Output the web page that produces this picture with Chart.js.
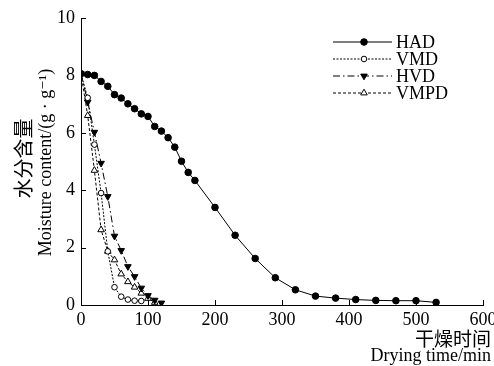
<!DOCTYPE html>
<html>
<head>
<meta charset="utf-8">
<script src="https://cdn.jsdelivr.net/npm/chart.js@4"></script>
<style>
  html, body { margin: 0; padding: 0; background: #fff; }
  #wrap { width: 494px; height: 366px; }
</style>
</head>
<body>
<div id="wrap"><canvas id="chart" width="494" height="366"></canvas></div>
<script>
// drying curves
const hadTime = [0, 10, 20, 30, 40, 50, 60, 70, 80, 90, 100, 110, 120, 130, 140, 150, 160, 170,
                 200, 230, 260, 290, 320, 350, 380, 410, 440, 470, 500, 530];
const hadMoist = [8.06, 8.03, 8.0, 7.79, 7.62, 7.33, 7.21, 7.01, 6.84, 6.66, 6.57, 6.22, 6.06, 5.83, 5.5, 5.01, 4.62, 4.34,
                  3.40, 2.43, 1.62, 0.95, 0.53, 0.31, 0.24, 0.19, 0.16, 0.15, 0.15, 0.09];

const vmdTime = [0, 10, 20, 30, 40, 50, 60, 70, 80, 90];
const vmdMoist = [8.06, 7.22, 5.59, 3.9, 1.87, 0.62, 0.29, 0.19, 0.15, 0.14];

const hvdTime = [0, 10, 20, 30, 40, 50, 60, 70, 80, 90, 100, 110, 120];
const hvdMoist = [8.06, 7.07, 6.02, 4.94, 3.78, 2.4, 1.9, 1.34, 0.99, 0.59, 0.33, 0.17, 0.07];

const vmpdTime = [0, 10, 20, 30, 40, 50, 60, 70, 80, 90, 100, 110];
const vmpdMoist = [8.06, 6.6, 4.69, 2.62, 1.87, 1.57, 1.08, 0.81, 0.62, 0.41, 0.23, 0.09];

const xTicks = [0, 100, 200, 300, 400, 500, 600];
const yTicks = [0, 2, 4, 6, 8, 10];

const yTitle = ['水分含量', 'Moisture content/(g · g⁻¹)'];
const xTitle = ['干燥时间', 'Drying time/min'];

function pairs(xs, ys) {
    return xs.map((x, i) => ({ x: x, y: ys[i] }));
}

const serif = '"Liberation Serif", "DejaVu Serif", serif';
const cjk = '"Noto Sans CJK SC", sans-serif';

// inward tick marks on both axes
const innerTicks = {
    id: 'innerTicks',
    afterDraw(chart) {
        const ctx = chart.ctx;
        const xs = chart.scales.x, ys = chart.scales.y;
        const area = chart.chartArea;
        ctx.save();
        ctx.strokeStyle = '#000';
        ctx.lineWidth = 1;
        ctx.beginPath();
        xTicks.forEach(v => {
            const px = Math.round(xs.getPixelForValue(v)) + 0.5;
            ctx.moveTo(px, area.bottom);
            ctx.lineTo(px, area.bottom - 5);
        });
        yTicks.forEach(v => {
            const py = Math.round(ys.getPixelForValue(v)) + 0.5;
            ctx.moveTo(area.left, py);
            ctx.lineTo(area.left + 5, py);
        });
        ctx.stroke();
        ctx.restore();
    }
};

// two-line axis titles (chinese over english)
const axisTitles = {
    id: 'axisTitles',
    afterDraw(chart) {
        const ctx = chart.ctx;
        const area = chart.chartArea;
        const midY = (area.top + area.bottom) / 2;
        ctx.save();
        ctx.fillStyle = '#000';
        ctx.textBaseline = 'middle';

        ctx.save();
        ctx.translate(23, midY - 3);
        ctx.rotate(-Math.PI / 2);
        ctx.textAlign = 'center';
        ctx.font = '20px ' + cjk;
        ctx.fillText(yTitle[0], 0, 0);
        ctx.restore();

        ctx.save();
        ctx.translate(46, midY + 1);
        ctx.rotate(-Math.PI / 2);
        ctx.textAlign = 'center';
        ctx.font = '18px ' + serif;
        ctx.fillText(yTitle[1], 0, 0);
        ctx.restore();

        ctx.textAlign = 'right';
        ctx.font = '19px ' + cjk;
        ctx.fillText(xTitle[0], 491, 339);
        ctx.font = '18px ' + serif;
        ctx.fillText(xTitle[1], 491, 356);
        ctx.restore();
    }
};

// legend: short line with marker in the middle, label on the right
const lineLegend = {
    id: 'lineLegend',
    afterDraw(chart) {
        const ctx = chart.ctx;
        const x0 = 333, x1 = 392, top = 42, gap = 17;
        ctx.save();
        chart.data.datasets.forEach((ds, i) => {
            const y = top + i * gap;
            ctx.strokeStyle = '#000';
            ctx.lineWidth = 1;
            ctx.setLineDash(ds.borderDash || []);
            ctx.beginPath();
            ctx.moveTo(x0, y);
            ctx.lineTo(x1, y);
            ctx.stroke();
            ctx.setLineDash([]);
            ctx.fillStyle = ds.pointBackgroundColor;
            ctx.strokeStyle = '#000';
            Chart.helpers.drawPoint(ctx, {
                pointStyle: ds.pointStyle,
                rotation: ds.pointRotation || 0,
                radius: ds.pointRadius,
                borderWidth: 1
            }, 364, y);
            ctx.fillStyle = '#000';
            ctx.font = '18px ' + serif;
            ctx.textBaseline = 'middle';
            ctx.textAlign = 'left';
            ctx.fillText(ds.label, 396, y + 1);
        });
        ctx.restore();
    }
};

const ctx = document.getElementById('chart').getContext('2d');
new Chart(ctx, {
    type: 'line',
    data: {
        datasets: [
            {
                label: 'HAD',
                data: pairs(hadTime, hadMoist),
                borderColor: '#000',
                borderWidth: 1,
                pointStyle: 'circle',
                pointRadius: 3.3,
                pointBackgroundColor: '#000',
                pointBorderColor: '#000'
            },
            {
                label: 'VMD',
                data: pairs(vmdTime, vmdMoist),
                borderColor: '#000',
                borderWidth: 1,
                borderDash: [2, 1.5],
                pointStyle: 'circle',
                pointRadius: 2.8,
                pointBackgroundColor: '#fff',
                pointBorderColor: '#000'
            },
            {
                label: 'HVD',
                data: pairs(hvdTime, hvdMoist),
                borderColor: '#000',
                borderWidth: 1,
                borderDash: [7, 3, 1.5, 3],
                pointStyle: 'triangle',
                pointRotation: 180,
                pointRadius: 3.8,
                pointBackgroundColor: '#000',
                pointBorderColor: '#000'
            },
            {
                label: 'VMPD',
                data: pairs(vmpdTime, vmpdMoist),
                borderColor: '#000',
                borderWidth: 1,
                borderDash: [3, 2],
                pointStyle: 'triangle',
                pointRadius: 3.8,
                pointBackgroundColor: '#fff',
                pointBorderColor: '#000'
            }
        ]
    },
    options: {
        responsive: false,
        animation: false,
        layout: {
            padding: { top: 18, right: 11, left: 0, bottom: 0 }
        },
        plugins: {
            legend: { display: false },
            tooltip: { enabled: false }
        },
        scales: {
            x: {
                type: 'linear',
                min: 0,
                max: 600,
                afterBuildTicks: s => { s.ticks = xTicks.map(v => ({ value: v })); },
                afterFit: s => {
                    s.height = 61;
                    s.paddingLeft = 0;
                    s.paddingRight = 0;
                },
                grid: { display: false, drawTicks: false },
                border: { display: true, color: '#000', width: 1 },
                ticks: {
                    color: '#000',
                    padding: 4,
                    maxRotation: 0,
                    font: { family: serif, size: 18 }
                }
            },
            y: {
                type: 'linear',
                min: 0,
                max: 10,
                afterBuildTicks: s => { s.ticks = yTicks.map(v => ({ value: v })); },
                afterFit: s => {
                    s.width = 81;
                    s.paddingTop = 0;
                    s.paddingBottom = 0;
                },
                grid: { display: false, drawTicks: false },
                border: { display: true, color: '#000', width: 1 },
                ticks: {
                    color: '#000',
                    padding: 6,
                    font: { family: serif, size: 18 }
                }
            }
        }
    },
    plugins: [innerTicks, axisTitles, lineLegend]
});
</script>
</body>
</html>
